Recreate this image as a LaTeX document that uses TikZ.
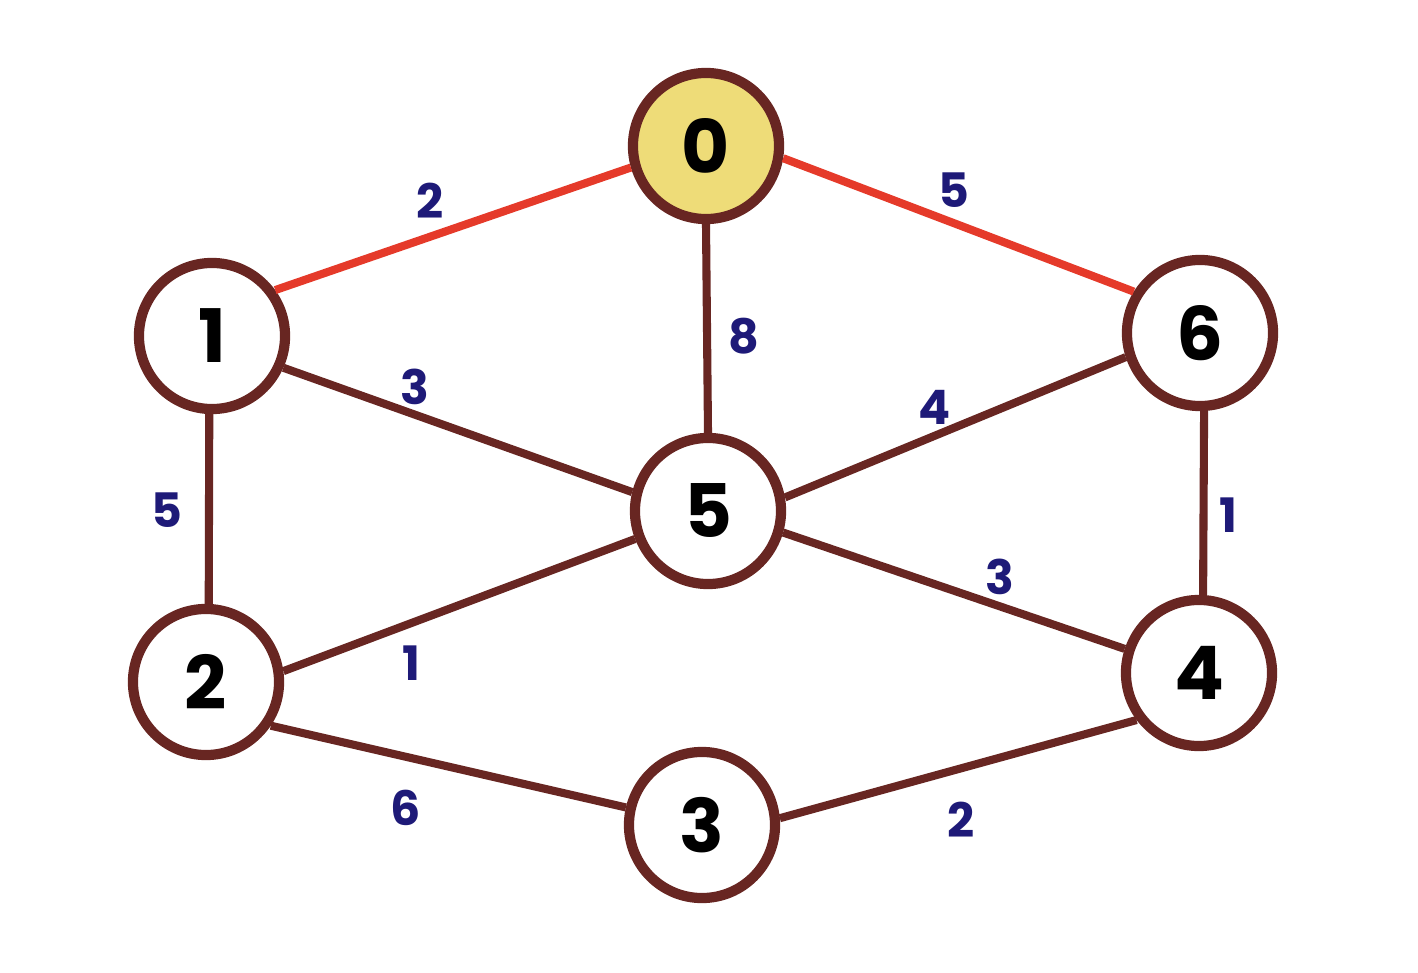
\documentclass[tikz,border=0pt]{standalone}
\usepackage{fontspec}
\setmainfont{Poppins}
\usepackage{xcolor}
\usetikzlibrary{positioning}

\definecolor{edgebrown}{HTML}{682622}
\definecolor{startfill}{HTML}{EEDC78}
\definecolor{treered}{HTML}{E53A2A}
\definecolor{weightblue}{HTML}{1E1A78}

\begin{document}
\begin{tikzpicture}[
    x=0.01cm, y=-0.01cm,
    vertex/.style={circle,draw=edgebrown,line width=2.9pt,fill=white,minimum size=1.46cm,inner sep=0pt,font=\fontsize{21}{21}\selectfont\bfseries},
    start/.style={vertex,fill=startfill},
    edge/.style={draw=edgebrown,line width=2.3pt},
    tree/.style={draw=treered,line width=2.3pt},
    lbl/.style={text=weightblue,font=\fontsize{13.5}{13.5}\selectfont\bfseries,inner sep=0pt}
]
\useasboundingbox (0,0) rectangle (1418,973);
\node[start] (n0) at (706,146) {0};
\node[vertex] (n1) at (212,336) {1};
\node[vertex] (n6) at (1200,333) {6};
\node[vertex] (n5) at (708,511) {5};
\node[vertex] (n2) at (206,682) {2};
\node[vertex] (n4) at (1199,673) {4};
\node[vertex] (n3) at (702,825) {3};
\draw[tree] (n0.196) -- node[lbl,shift={(-23,-28)}]{2} (n1.36);
\draw[tree] (n0.351) -- node[lbl,shift={(-5,-35)}]{5} (n6.148);
\draw[edge] (n0.270) -- node[lbl,shift={(37,8)}]{8} (n5.90);
\draw[edge] (n1.-24) -- node[lbl,shift={(-43,-43)}]{3} (n5.166);
\draw[edge] (n5.10) -- node[lbl,shift={(-21,-20)}]{4} (n6.198);
\draw[edge] (n1.268) -- node[lbl,shift={(-42,1)}]{5} (n2.88);
\draw[edge] (n6.273) -- node[lbl,shift={(25,12)}]{1} (n4.87);
\draw[edge] (n5.-16) -- node[lbl,shift={(46,-14)}]{3} (n4.162);
\draw[edge] (n2.8) -- node[lbl,shift={(-48,58)}]{1} (n5.201);
\draw[edge] (n2.-34) -- node[lbl,shift={(-43,41)}]{6} (n3.167);
\draw[edge] (n3.5) -- node[lbl,shift={(3,51)}]{2} (n4.217);
\end{tikzpicture}
\end{document}
